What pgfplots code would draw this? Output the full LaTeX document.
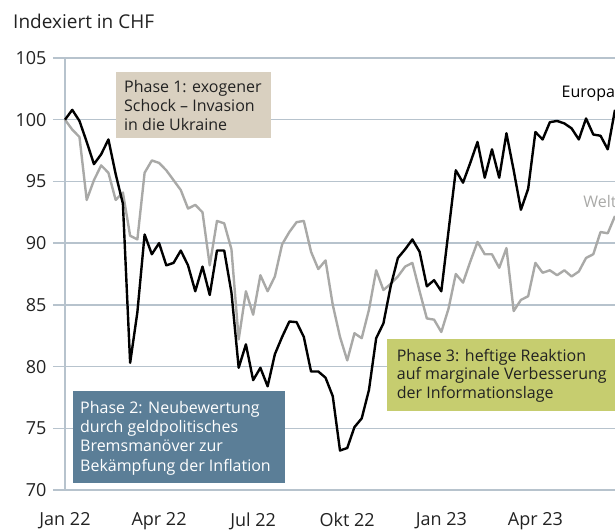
\documentclass[border=0pt]{standalone}
\usepackage{pgfplots}
\pgfplotsset{compat=1.18}
\usepackage{fontspec}
\setmainfont{Open Sans}
\definecolor{gridc}{HTML}{B7C3CD}
\definecolor{grayline}{HTML}{A9A9A7}
\definecolor{tanbox}{HTML}{D9D0C0}
\definecolor{bluebox}{HTML}{5B7E97}
\definecolor{greenbox}{HTML}{C6CD6F}
\definecolor{textc}{HTML}{222222}

\pgfplotstableread{
i europa welt
0 100.0 100.0
1 100.8 99.2
2 99.9 98.6
3 98.2 93.5
4 96.4 95.1
5 97.2 96.3
6 98.4 95.7
7 95.6 93.5
8 93.2 94.1
9 80.3 90.6
10 84.4 90.3
11 90.7 95.7
12 89.1 96.7
13 90.0 96.5
14 88.2 95.9
15 88.4 95.1
16 89.4 94.3
17 88.2 92.8
18 86.1 93.1
19 88.1 92.5
20 85.8 88.2
21 89.4 91.8
22 89.4 91.6
23 86.0 89.5
24 79.9 82.2
25 81.8 86.1
26 78.9 84.2
27 79.9 87.4
28 78.4 86.1
29 81.0 87.3
30 82.4 89.9
31 83.65 90.9
32 83.6 91.7
33 82.4 91.8
34 79.6 89.3
35 79.6 87.9
36 79.1 88.6
37 77.6 85.0
38 73.2 82.4
39 73.4 80.5
40 75.1 82.7
41 75.8 82.3
42 78.1 84.6
43 82.3 87.8
44 83.5 86.2
45 86.5 86.7
46 88.8 87.3
47 89.5 88.1
48 90.3 88.4
49 89.3 86.1
50 86.5 83.9
51 87.0 83.8
52 86.1 82.8
53 91.0 84.7
54 95.9 87.5
55 94.9 86.8
56 96.5 88.5
57 98.2 90.1
58 95.3 89.1
59 97.6 89.1
60 95.3 88.0
61 98.9 89.6
62 95.9 84.5
63 92.7 85.4
64 94.4 85.7
65 99.0 88.4
66 98.4 87.6
67 99.8 87.8
68 99.9 87.4
69 99.7 87.8
70 99.3 87.3
71 98.4 87.7
72 100.1 88.8
73 98.8 89.1
74 98.7 90.9
75 97.6 90.8
76 100.8 92.2
}\data

\begin{document}
\begin{tikzpicture}
\begin{axis}[
  name=ax,
  scale only axis,
  width=550pt, height=432pt,
  xmin=0, xmax=76, ymin=70, ymax=105,
  axis x line=bottom, axis y line=left,
  axis line style={-, draw=gridc, line width=1.4pt},
  xtick={0,13,26,39,52,65},
  xticklabels={Jan 22, Apr 22, Jul 22, Okt 22, Jan 23, Apr 23},
  ytick={70,75,...,105},
  ymajorgrids,
  grid style={draw=gridc, line width=1.4pt},
  tick align=outside,
  major tick length=12pt,
  ytick style={draw=gridc, line width=1.4pt},
  xtick style={draw=none},
  tick label style={font=\fontsize{18}{20}\selectfont, text=textc},
  yticklabel style={xshift=-3pt},
  xticklabel style={yshift=-7pt},
  /pgf/number format/assume math mode=true,
  clip=false,
]
\addplot[grayline, line width=2.4pt, line join=round] table[x=i, y=welt] {\data};
\addplot[black, line width=2.4pt, line join=round] table[x=i, y=europa] {\data};

% Phase boxes
\fill[tanbox] (axis cs:7.05,103.87) rectangle (axis cs:28.46,98.52);
\node[anchor=north west, inner sep=0pt, align=left, text=textc,
  font=\fontsize{16}{18.8}\selectfont] at (axis cs:8.15,103.2)
  {Phase 1: exogener\\Schock -- Invasion\\in die Ukraine};

\fill[bluebox] (axis cs:1.1,78.04) rectangle (axis cs:30.4,70.6);
\node[anchor=north west, inner sep=0pt, align=left, text=white,
  font=\fontsize{16}{19.2}\selectfont] at (axis cs:2.07,77.2)
  {Phase 2: Neubewertung\\durch geldpolitisches\\Bremsman\"over zur\\Bek\"ampfung der Inflation};

\fill[greenbox] (axis cs:44.45,82.2) rectangle (axis cs:80,76.4);
\node[anchor=north west, inner sep=0pt, align=left, text=textc,
  font=\fontsize{16}{18.8}\selectfont] at (axis cs:45.83,81.45)
  {Phase 3: heftige Reaktion\\auf marginale Verbesserung\\der Informationslage};

\node[anchor=west, inner sep=0pt, text=black, font=\fontsize{16}{18}\selectfont]
  at (axis cs:68.6,102.1) {Europa};
\node[anchor=west, inner sep=0pt, text=grayline, font=\fontsize{16}{18}\selectfont]
  at (axis cs:71.6,93.35) {Welt};
\end{axis}
\node[anchor=base west, inner sep=0pt, text=textc, font=\fontsize{19}{21}\selectfont]
  at ([shift={(-52pt,29.5pt)}]ax.north west) {Indexiert in CHF};
\pgfresetboundingbox
\path ([shift={(-65pt,-42pt)}]ax.south west) rectangle ([shift={(0pt,58pt)}]ax.north east);
\end{tikzpicture}
\end{document}
